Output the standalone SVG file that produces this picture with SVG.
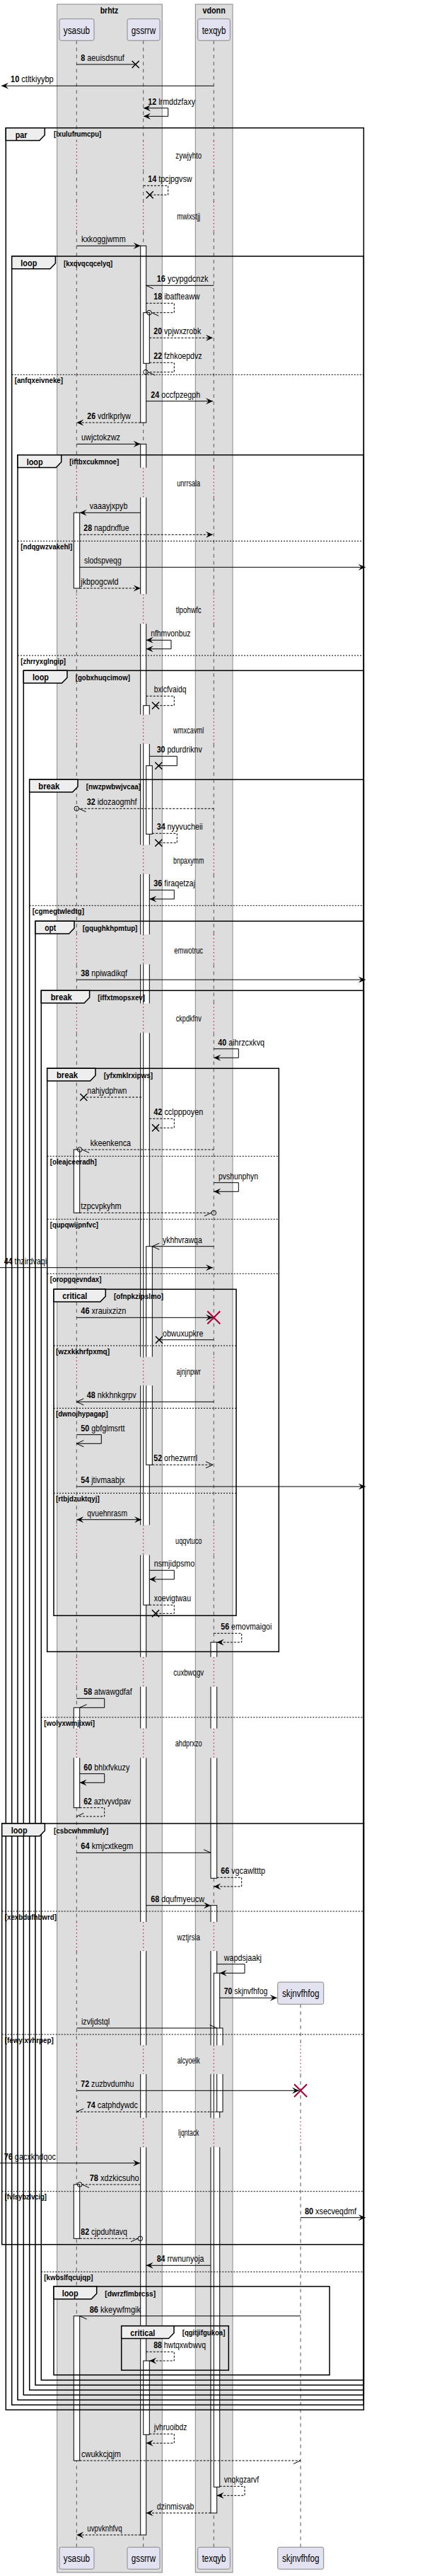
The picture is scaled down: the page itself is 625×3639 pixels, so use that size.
<svg xmlns="http://www.w3.org/2000/svg" width="625" height="3639" viewBox="0 0 625 3639">
<style>
text{font-family:"Liberation Sans",Arial,sans-serif;fill:#000}
.m{font-size:13.5px}
.n{font-weight:bold}
.dt{font-size:12px}
.g{font-size:11px;font-weight:bold}
.tl{font-size:13.5px;font-weight:bold}
.pn{font-size:14px}
.bt{font-size:13px;font-weight:bold}
.ln{stroke:#000;stroke-width:1;fill:none}
.da{stroke-dasharray:3,2}
.fr{fill:none;stroke:#000;stroke-width:1.5}
.tab{fill:#EEEEEE;stroke:#000;stroke-width:1.5}
.el{stroke:#000;stroke-width:1;stroke-dasharray:2,2}
.act{fill:#fff;stroke:#000;stroke-width:1}
.part{fill:#E2E2F0;stroke:#888;stroke-width:1}
.box{fill:#DDDDDD;stroke:#888;stroke-width:1}
.llg{stroke:#555;stroke-width:1;stroke-dasharray:5,5;fill:none}
.llr{stroke:#A80036;stroke-width:1;stroke-dasharray:1.5,3.5;fill:none}
</style>
<defs>
<path id="fR" d="M0,0L-10,-4.5L-6,0L-10,4.5Z" fill="#000"/>
<path id="fL" d="M0,0L10,-4.5L6,0L10,4.5Z" fill="#000"/>
<path id="oR" d="M-10,-4.5L0,0L-10,4.5" fill="none" stroke="#000"/>
<path id="oL" d="M10,-4.5L0,0L10,4.5" fill="none" stroke="#000"/>
<path id="hLu" d="M0,0L10,-4.5" stroke="#000"/>
<path id="hLl" d="M0,0L10,4.5" stroke="#000"/>
<path id="hRu" d="M0,0L-10,-4.5" stroke="#000"/>
<path id="hRl" d="M0,0L-10,4.5" stroke="#000"/>
<path id="xx" d="M-5,-5L5,5M-5,5L5,-5" stroke="#000" stroke-width="1.5"/>
<path id="rx" d="M-9,-9L9,9M-9,9L9,-9" stroke="#A80036" stroke-width="2"/>
<circle id="ci" r="3.3" fill="none" stroke="#000"/>
<path id="llg" class="llg" d="M0,57.3V199M0,241V285M0,327V660.7M0,702.7V839.3M0,881V1009.3M0,1051V1193.3M0,1235V1320M0,1362.3V1417.3M0,1459.3V1916.7M0,1957.3V2154.3M0,2196.7V2340.7M0,2382.7V2441.7M0,2483.3V2715M0,2756V2889.3M0,2930V2991.7M0,3033.3V3598.3"/>
<path id="llr" class="llr" d="M0,199V241M0,285V327M0,660.7V702.7M0,839.3V881M0,1009.3V1051M0,1193.3V1235M0,1320V1362.3M0,1417.3V1459.3M0,1916.7V1957.3M0,2154.3V2196.7M0,2340.7V2382.7M0,2441.7V2483.3M0,2715V2756M0,2889.3V2930M0,2991.7V3033.3"/>
<mask id="dm" maskUnits="userSpaceOnUse" x="0" y="0" width="625" height="3639">
<rect width="625" height="3639" fill="#fff"/>
<g fill="#000">
<rect x="0" y="199" width="625" height="42"/><rect x="0" y="285" width="625" height="42"/>
<rect x="0" y="660.7" width="625" height="42"/><rect x="0" y="839.3" width="625" height="41.7"/>
<rect x="0" y="1009.3" width="625" height="41.7"/><rect x="0" y="1193.3" width="625" height="41.7"/>
<rect x="0" y="1320" width="625" height="42.3"/><rect x="0" y="1417.3" width="625" height="42"/>
<rect x="0" y="1916.7" width="625" height="40.6"/><rect x="0" y="2154.3" width="625" height="42.4"/>
<rect x="0" y="2340.7" width="625" height="42"/><rect x="0" y="2441.7" width="625" height="41.6"/>
<rect x="0" y="2715" width="625" height="41"/><rect x="0" y="2889.3" width="625" height="40.7"/>
<rect x="0" y="2991.7" width="625" height="41.6"/>
</g>
</mask>
</defs>
<rect width="625" height="3639" fill="#fff"/>
<g id="box-brhtz"><rect class="box" x="80.7" y="6" width="148.6" height="3628"/><text class="bt" x="154.5" y="19" text-anchor="middle" textLength="25.6" lengthAdjust="spacingAndGlyphs">brhtz</text></g>
<g id="box-vdonn"><rect class="box" x="276.3" y="6" width="52.7" height="3628"/><text class="bt" x="302.6" y="19" text-anchor="middle" textLength="32.3" lengthAdjust="spacingAndGlyphs">vdonn</text></g>
<g id="lifelines">
<use href="#llg" x="108.3"/><use href="#llr" x="108.3"/>
<use href="#llg" x="202.7"/><use href="#llr" x="202.7"/>
<use href="#llg" x="302.3"/><use href="#llr" x="302.3"/>
<path class="llg" d="M425,2831.3V2889.3M425,2930V2991.7M425,3033.3V3598.3"/>
<path class="llr" d="M425,2889.3V2930M425,2991.7V3033.3"/>
</g>
<g id="activations" mask="url(#dm)">
<rect class="act" x="198.7" y="347.3" width="8" height="249.7"/>
<rect class="act" x="202.7" y="441.7" width="8.6" height="71.6"/>
<rect class="act" x="198.7" y="627.3" width="8" height="2953.7"/>
<rect class="act" x="202.7" y="996.7" width="8.6" height="1270.6"/>
<rect class="act" x="206.7" y="1081.7" width="8.6" height="96.6"/>
<rect class="act" x="206.7" y="1760.7" width="8.6" height="308.6"/>
<rect class="act" x="202.7" y="3335" width="8.6" height="104.3"/>
<rect class="act" x="104.3" y="724.3" width="8.4" height="106.7"/>
<rect class="act" x="104.3" y="1624" width="8.4" height="89.3"/>
<rect class="act" x="104.3" y="2412.3" width="8.4" height="141.4"/>
<rect class="act" x="104.3" y="3086" width="8.4" height="76.3"/>
<rect class="act" x="104.3" y="3271.7" width="8.4" height="204.3"/>
<rect class="act" x="298" y="2320" width="8.7" height="333.3"/>
<rect class="act" x="298" y="2691.7" width="8.7" height="858.3"/>
<rect class="act" x="302.3" y="2787.3" width="8.4" height="726"/>
<rect class="act" x="306.7" y="2865" width="8.3" height="118.3"/>
</g>
<g id="frames">
<g id="frame-par"><rect class="fr" x="8.3" y="180.7" width="506" height="3223.6"/><path class="tab" d="M8.3,180.7H63.3V190.7L55.8,198.4H8.3Z"/><text class="tl" x="21.7" y="194.7" textLength="16.7" lengthAdjust="spacingAndGlyphs">par</text><text class="g" x="76" y="192.5" textLength="67.3" lengthAdjust="spacingAndGlyphs">[lxulufrumcpu]</text></g>
<g id="frame-loop1"><rect class="fr" x="16.7" y="362" width="497.6" height="3035.3"/><path class="tab" d="M16.7,362H78.4V372L70.9,379.7H16.7Z"/><text class="tl" x="29.3" y="376" textLength="23" lengthAdjust="spacingAndGlyphs">loop</text><text class="g" x="90" y="375.5" textLength="69.3" lengthAdjust="spacingAndGlyphs">[kxqvqcqcelyq]</text>
<path class="el" d="M16.7,529.3H514.3"/><text class="g" x="20.7" y="541" textLength="68.3" lengthAdjust="spacingAndGlyphs">[anfqxeivneke]</text></g>
<g id="frame-loop2"><rect class="fr" x="25" y="642.7" width="489.3" height="2747.6"/><path class="tab" d="M25,642.7H86.7V652.7L79.2,660.4H25Z"/><text class="tl" x="37.7" y="656.7" textLength="23" lengthAdjust="spacingAndGlyphs">loop</text><text class="g" x="98.3" y="655.5" textLength="70" lengthAdjust="spacingAndGlyphs">[iftbxcukmnoe]</text>
<path class="el" d="M25,764.3H514.3"/><text class="g" x="29.3" y="776" textLength="73" lengthAdjust="spacingAndGlyphs">[ndqgwzvakehl]</text>
<path class="el" d="M25,926H514.3"/><text class="g" x="29.3" y="937.5" textLength="63.7" lengthAdjust="spacingAndGlyphs">[zhrryxglngip]</text></g>
<g id="frame-loop3"><rect class="fr" x="33.3" y="947.3" width="481" height="2436"/><path class="tab" d="M33.3,947.3H95V957.3L87.5,965H33.3Z"/><text class="tl" x="46" y="961.3" textLength="23" lengthAdjust="spacingAndGlyphs">loop</text><text class="g" x="106.7" y="960.5" textLength="77.3" lengthAdjust="spacingAndGlyphs">[gobxhuqcimow]</text></g>
<g id="frame-break1"><rect class="fr" x="41.7" y="1101.3" width="472.6" height="2275"/><path class="tab" d="M41.7,1101.3H110V1111.3L102.5,1119H41.7Z"/><text class="tl" x="54.3" y="1115.3" textLength="30" lengthAdjust="spacingAndGlyphs">break</text><text class="g" x="121.7" y="1114.5" textLength="77.3" lengthAdjust="spacingAndGlyphs">[nwzpwbwjvcaa]</text>
<path class="el" d="M41.7,1279.3H514.3"/><text class="g" x="45.7" y="1291" textLength="73.3" lengthAdjust="spacingAndGlyphs">[cgmegtwledtg]</text></g>
<g id="frame-opt"><rect class="fr" x="50" y="1301.3" width="464.3" height="2068"/><path class="tab" d="M50,1301.3H105V1311.3L97.5,1319H50Z"/><text class="tl" x="63.3" y="1315.3" textLength="16" lengthAdjust="spacingAndGlyphs">opt</text><text class="g" x="116.7" y="1314.5" textLength="77.7" lengthAdjust="spacingAndGlyphs">[gqughkhpmtup]</text></g>
<g id="frame-break2"><rect class="fr" x="58.3" y="1399.3" width="456" height="1963"/><path class="tab" d="M58.3,1399.3H126.6V1409.3L119.1,1417H58.3Z"/><text class="tl" x="71.7" y="1413.3" textLength="30" lengthAdjust="spacingAndGlyphs">break</text><text class="g" x="138.3" y="1412.5" textLength="66.7" lengthAdjust="spacingAndGlyphs">[iffxtmopsxev]</text>
<path class="el" d="M58.3,2426H514.3"/><text class="g" x="62.3" y="2437.7" textLength="71.7" lengthAdjust="spacingAndGlyphs">[wolyxwmjixwi]</text>
<path class="el" d="M58.3,3209.3H514.3"/><text class="g" x="62.3" y="3221" textLength="69.3" lengthAdjust="spacingAndGlyphs">[kwbslfqcujqp]</text></g>
<g id="frame-break3"><rect class="fr" x="66.7" y="1509.3" width="327.6" height="824"/><path class="tab" d="M66.7,1509.3H135V1519.3L127.5,1527H66.7Z"/><text class="tl" x="80" y="1523.3" textLength="30" lengthAdjust="spacingAndGlyphs">break</text><text class="g" x="146.7" y="1522.5" textLength="69.3" lengthAdjust="spacingAndGlyphs">[yfxmklrxipws]</text>
<path class="el" d="M66.7,1633.3H394.3"/><text class="g" x="70.7" y="1645" textLength="66" lengthAdjust="spacingAndGlyphs">[oleajceeradh]</text>
<path class="el" d="M66.7,1722.3H394.3"/><text class="g" x="70.7" y="1734" textLength="68.3" lengthAdjust="spacingAndGlyphs">[qupqwijpnfvc]</text>
<path class="el" d="M66.7,1799.3H394.3"/><text class="g" x="70.7" y="1811" textLength="72.7" lengthAdjust="spacingAndGlyphs">[oropgqevndax]</text></g>
<g id="frame-critical1"><rect class="fr" x="76" y="1821.3" width="258" height="461"/><path class="tab" d="M76,1821.3H149.3V1831.3L141.8,1839H76Z"/><text class="tl" x="88.3" y="1835.3" textLength="35" lengthAdjust="spacingAndGlyphs">critical</text><text class="g" x="161" y="1834.5" textLength="70" lengthAdjust="spacingAndGlyphs">[ofnpkzipslmo]</text>
<path class="el" d="M76,1901H334"/><text class="g" x="79" y="1912.7" textLength="76" lengthAdjust="spacingAndGlyphs">[wzxkkhrfpxmq]</text>
<path class="el" d="M76,1989.3H334"/><text class="g" x="79" y="2001" textLength="73.7" lengthAdjust="spacingAndGlyphs">[dwnojhypagap]</text>
<path class="el" d="M76,2109.3H334"/><text class="g" x="79" y="2121" textLength="61.7" lengthAdjust="spacingAndGlyphs">[rtbjdzuktqyj]</text></g>
<g id="frame-loop4"><rect class="fr" x="2.7" y="2576" width="511.6" height="594.7"/><path class="tab" d="M2.7,2576H63.4V2586L55.9,2593.7H2.7Z"/><text class="tl" x="15.7" y="2590" textLength="23" lengthAdjust="spacingAndGlyphs">loop</text><text class="g" x="76" y="2589.5" textLength="77.3" lengthAdjust="spacingAndGlyphs">[csbcwhmmlufy]</text>
<path class="el" d="M2.7,2700H514.3"/><text class="g" x="6.7" y="2711.7" textLength="73.3" lengthAdjust="spacingAndGlyphs">[xexbdufhbwrd]</text>
<path class="el" d="M2.7,2874H514.3"/><text class="g" x="6.7" y="2885.7" textLength="69" lengthAdjust="spacingAndGlyphs">[fewyixvhrpep]</text>
<path class="el" d="M2.7,3095.7H514.3"/><text class="g" x="6.7" y="3107.3" textLength="59.3" lengthAdjust="spacingAndGlyphs">[fvlsybzlvcig]</text></g>
<g id="frame-loop5"><rect class="fr" x="76" y="3230" width="390" height="125"/><path class="tab" d="M76,3230H136.7V3240L129.2,3247.7H76Z"/><text class="tl" x="87.7" y="3244" textLength="23" lengthAdjust="spacingAndGlyphs">loop</text><text class="g" x="148.3" y="3243.5" textLength="71.7" lengthAdjust="spacingAndGlyphs">[dwrzflmbrcss]</text></g>
<g id="frame-critical2"><rect class="fr" x="171.7" y="3285.7" width="151.6" height="62.6"/><path class="tab" d="M171.7,3285.7H246V3295.7L238.5,3303.4H171.7Z"/><text class="tl" x="184.3" y="3299.7" textLength="35" lengthAdjust="spacingAndGlyphs">critical</text><text class="g" x="257.7" y="3299" textLength="60.7" lengthAdjust="spacingAndGlyphs">[qgitjifgukoa]</text></g>
</g>
<g id="delays">
<text class="dt" x="266.7" y="224" text-anchor="middle" textLength="36.7" lengthAdjust="spacingAndGlyphs">zywjyhto</text>
<text class="dt" x="266.7" y="310" text-anchor="middle" textLength="32.7" lengthAdjust="spacingAndGlyphs">mwixstjj</text>
<text class="dt" x="266.7" y="686.7" text-anchor="middle" textLength="33" lengthAdjust="spacingAndGlyphs">unrrsala</text>
<text class="dt" x="266.7" y="865.7" text-anchor="middle" textLength="36" lengthAdjust="spacingAndGlyphs">tlpohwfc</text>
<text class="dt" x="266.7" y="1035.7" text-anchor="middle" textLength="43.3" lengthAdjust="spacingAndGlyphs">wmxcavml</text>
<text class="dt" x="266.7" y="1219.7" text-anchor="middle" textLength="43.3" lengthAdjust="spacingAndGlyphs">bnpaxymm</text>
<text class="dt" x="266.7" y="1346.7" text-anchor="middle" textLength="40.7" lengthAdjust="spacingAndGlyphs">emwotruc</text>
<text class="dt" x="266.7" y="1443.3" text-anchor="middle" textLength="36" lengthAdjust="spacingAndGlyphs">ckpdkfnv</text>
<text class="dt" x="266.7" y="1942.3" text-anchor="middle" textLength="34.3" lengthAdjust="spacingAndGlyphs">ajnjnpwr</text>
<text class="dt" x="266.7" y="2180.7" text-anchor="middle" textLength="37.3" lengthAdjust="spacingAndGlyphs">uqqvtuco</text>
<text class="dt" x="266.7" y="2366.7" text-anchor="middle" textLength="43" lengthAdjust="spacingAndGlyphs">cuxbwqgv</text>
<text class="dt" x="266.7" y="2467.3" text-anchor="middle" textLength="38" lengthAdjust="spacingAndGlyphs">ahdprxzo</text>
<text class="dt" x="266.7" y="2740.7" text-anchor="middle" textLength="32.3" lengthAdjust="spacingAndGlyphs">wztjrsla</text>
<text class="dt" x="266.7" y="2914.7" text-anchor="middle" textLength="32" lengthAdjust="spacingAndGlyphs">alcyoelk</text>
<text class="dt" x="266.7" y="3017.3" text-anchor="middle" textLength="29.3" lengthAdjust="spacingAndGlyphs">ljqntack</text>
</g>
<g id="participants">
<g id="p-ysasub"><rect class="part" x="84" y="26.7" width="49" height="30.6" rx="2.5"/><text class="pn" x="108.5" y="47.7" text-anchor="middle" textLength="37.3" lengthAdjust="spacingAndGlyphs">ysasub</text><rect class="part" x="84" y="3598.3" width="49" height="31" rx="2.5"/><text class="pn" x="108.5" y="3619.3" text-anchor="middle" textLength="37.3" lengthAdjust="spacingAndGlyphs">ysasub</text></g>
<g id="p-gssrrw"><rect class="part" x="180" y="26.7" width="46" height="30.6" rx="2.5"/><text class="pn" x="203" y="47.7" text-anchor="middle" textLength="34.3" lengthAdjust="spacingAndGlyphs">gssrrw</text><rect class="part" x="180" y="3598.3" width="46" height="31" rx="2.5"/><text class="pn" x="203" y="3619.3" text-anchor="middle" textLength="34.3" lengthAdjust="spacingAndGlyphs">gssrrw</text></g>
<g id="p-texqyb"><rect class="part" x="279.7" y="26.7" width="45.6" height="30.6" rx="2.5"/><text class="pn" x="302.5" y="47.7" text-anchor="middle" textLength="33.7" lengthAdjust="spacingAndGlyphs">texqyb</text><rect class="part" x="279.7" y="3598.3" width="45.6" height="31" rx="2.5"/><text class="pn" x="302.5" y="3619.3" text-anchor="middle" textLength="33.7" lengthAdjust="spacingAndGlyphs">texqyb</text></g>
<g id="p-skjnvfhfog"><rect class="part" x="392.7" y="2800" width="65" height="31.3" rx="2.5"/><text class="pn" x="425.2" y="2821" text-anchor="middle" textLength="52.3" lengthAdjust="spacingAndGlyphs">skjnvfhfog</text><rect class="part" x="392.7" y="3598.3" width="65" height="31" rx="2.5"/><text class="pn" x="425.2" y="3619.3" text-anchor="middle" textLength="52.3" lengthAdjust="spacingAndGlyphs">skjnvfhfog</text></g>
</g>
<g id="connectors">
<g><path class="ln" d="M108.3,91H191.7"/><use href="#xx" x="191.7" y="91"/><text class="m" x="114.3" y="86" textLength="61.4" lengthAdjust="spacingAndGlyphs"><tspan class="n">8</tspan> aeuisdsnuf</text></g>
<g><path class="ln" d="M302.3,121.3H2"/><use href="#fL" x="2" y="121.3"/><text class="m" x="15" y="116.3" textLength="60.7" lengthAdjust="spacingAndGlyphs"><tspan class="n">10</tspan> ctltkiyybp</text></g>
<g><path class="ln" d="M203,152.7H237.7V164.3H203"/><use href="#fL" x="203" y="152.7"/><use href="#fL" x="203" y="164.3"/><text class="m" x="209.3" y="147.7" textLength="66.7" lengthAdjust="spacingAndGlyphs"><tspan class="n">12</tspan> lrmddzfaxy</text></g>
<g><path class="ln da" d="M203,262.3H237.7V275.3H211.7"/><use href="#xx" x="211.7" y="275.3"/><text class="m" x="209.3" y="257.3" textLength="62.3" lengthAdjust="spacingAndGlyphs"><tspan class="n">14</tspan> tpcjpgvsw</text></g>
<g><path class="ln" d="M108.3,347.3H198.7"/><use href="#fR" x="198.7" y="347.3"/><text class="m" x="115" y="342.3" textLength="62.7" lengthAdjust="spacingAndGlyphs">kxkoggjwmm</text></g>
<g><path class="ln" d="M302.3,403.3H206.7"/><use href="#hLl" x="206.7" y="403.3"/><text class="m" x="221.7" y="398.3" textLength="72.7" lengthAdjust="spacingAndGlyphs"><tspan class="n">16</tspan> ycypgdcnzk</text></g>
<g><path class="ln da" d="M206.7,428.3H246.3V441.7H214.3"/><use href="#ci" x="211" y="441.7"/><use href="#hLl" x="214.3" y="441.7"/><text class="m" x="217.3" y="423.3" textLength="65.3" lengthAdjust="spacingAndGlyphs"><tspan class="n">18</tspan> ibatfteaww</text></g>
<g><path class="ln da" d="M211.3,477.3H301"/><use href="#fR" x="301" y="477.3"/><text class="m" x="217.3" y="472.3" textLength="67" lengthAdjust="spacingAndGlyphs"><tspan class="n">20</tspan> vpjwxzrobk</text></g>
<g><path class="ln da" d="M211.3,512.3H246.3V525.7H209.3"/><use href="#ci" x="206" y="525.7"/><use href="#hLl" x="209.3" y="525.7"/><text class="m" x="217.3" y="507.3" textLength="68.3" lengthAdjust="spacingAndGlyphs"><tspan class="n">22</tspan> fzhkoepdvz</text></g>
<g><path class="ln" d="M206.7,566.7H301"/><use href="#fR" x="301" y="566.7"/><text class="m" x="213.3" y="561.7" textLength="70" lengthAdjust="spacingAndGlyphs"><tspan class="n">24</tspan> occfpzegph</text></g>
<g><path class="ln da" d="M198.7,597H108.3"/><use href="#fL" x="108.3" y="597"/><text class="m" x="123.3" y="592" textLength="61.7" lengthAdjust="spacingAndGlyphs"><tspan class="n">26</tspan> vdrlkprlyw</text></g>
<g><path class="ln" d="M108.3,627.3H198.7"/><use href="#fR" x="198.7" y="627.3"/><text class="m" x="115" y="622.3" textLength="55" lengthAdjust="spacingAndGlyphs">uwjctokzwz</text></g>
<g><path class="ln" d="M198.7,724.3H112.7"/><use href="#fL" x="112.7" y="724.3"/><text class="m" x="126.7" y="719.3" textLength="53.7" lengthAdjust="spacingAndGlyphs">vaaayjxpyb</text></g>
<g><path class="ln da" d="M112.7,755.3H301"/><use href="#fR" x="301" y="755.3"/><text class="m" x="118.3" y="750.3" textLength="64.3" lengthAdjust="spacingAndGlyphs"><tspan class="n">28</tspan> napdrxffue</text></g>
<g><path class="ln" d="M112.7,801.3H516.7"/><use href="#fR" x="516.7" y="801.3"/><text class="m" x="119" y="796.3" textLength="52.7" lengthAdjust="spacingAndGlyphs">slodspveqg</text></g>
<g><path class="ln da" d="M112.7,831H198.7"/><use href="#fR" x="198.7" y="831"/><text class="m" x="114.3" y="826" textLength="53.3" lengthAdjust="spacingAndGlyphs">jkbpogcwld</text></g>
<g><path class="ln" d="M206.7,904.3H242V916.7H206.7"/><use href="#fL" x="206.7" y="904.3"/><use href="#fL" x="206.7" y="916.7"/><text class="m" x="213.3" y="899.3" textLength="56" lengthAdjust="spacingAndGlyphs">nfhmvonbuz</text></g>
<g><path class="ln da" d="M206.7,983.3H246.3V996.7H220"/><use href="#xx" x="220" y="996.7"/><text class="m" x="217.7" y="978.3" textLength="45.7" lengthAdjust="spacingAndGlyphs">bxlcfvaidq</text></g>
<g><path class="ln" d="M211.3,1068.3H250.3V1081.7H224.3"/><use href="#xx" x="224.3" y="1081.7"/><text class="m" x="221.7" y="1063.3" textLength="64" lengthAdjust="spacingAndGlyphs"><tspan class="n">30</tspan> pdurdriknv</text></g>
<g><path class="ln da" d="M302.3,1142.3H111.6"/><use href="#ci" x="108.3" y="1142.3"/><use href="#hLl" x="111.6" y="1142.3"/><text class="m" x="122.7" y="1137.3" textLength="70.7" lengthAdjust="spacingAndGlyphs"><tspan class="n">32</tspan> idozaogmhf</text></g>
<g><path class="ln da" d="M215.3,1177.3H250.3V1190.7H224.3"/><use href="#xx" x="224.3" y="1190.7"/><text class="m" x="221.7" y="1172.3" textLength="65" lengthAdjust="spacingAndGlyphs"><tspan class="n">34</tspan> nyyvucheii</text></g>
<g><path class="ln" d="M211.3,1257.3H246.3V1270H211.3"/><use href="#fL" x="211.3" y="1270"/><text class="m" x="217.3" y="1252.3" textLength="58.7" lengthAdjust="spacingAndGlyphs"><tspan class="n">36</tspan> firaqetzaj</text></g>
<g><path class="ln" d="M108.3,1384H516.7"/><use href="#fR" x="516.7" y="1384"/><text class="m" x="114.3" y="1379" textLength="65.7" lengthAdjust="spacingAndGlyphs"><tspan class="n">38</tspan> npiwadikqf</text></g>
<g><path class="ln" d="M302.3,1481.7H337.3V1494.3H302.3"/><use href="#fL" x="302.3" y="1494.3"/><text class="m" x="308.3" y="1476.7" textLength="65.7" lengthAdjust="spacingAndGlyphs"><tspan class="n">40</tspan> aihrzcxkvq</text></g>
<g><path class="ln da" d="M200,1550H118.3"/><use href="#xx" x="118.3" y="1550"/><text class="m" x="123.3" y="1545" textLength="56" lengthAdjust="spacingAndGlyphs">nahjydphwn</text></g>
<g><path class="ln da" d="M211.3,1580.3H246.3V1593.3H220"/><use href="#xx" x="220" y="1593.3"/><text class="m" x="217.3" y="1575.3" textLength="70" lengthAdjust="spacingAndGlyphs"><tspan class="n">42</tspan> cclpppoyen</text></g>
<g><path class="ln da" d="M302.3,1624H116"/><use href="#ci" x="112.7" y="1624"/><use href="#hLl" x="116" y="1624"/><text class="m" x="127.7" y="1619" textLength="57.3" lengthAdjust="spacingAndGlyphs">kkeenkenca</text></g>
<g><path class="ln" d="M302.3,1670.7H337.3V1683.3H302.3"/><use href="#fL" x="302.3" y="1683.3"/><text class="m" x="309" y="1665.7" textLength="56" lengthAdjust="spacingAndGlyphs">pvshunphyn</text></g>
<g><path class="ln da" d="M112.7,1713.3H299"/><use href="#ci" x="302.3" y="1713.3"/><use href="#hRl" x="299" y="1713.3"/><text class="m" x="114.3" y="1708.3" textLength="57.3" lengthAdjust="spacingAndGlyphs">tzpcvpkyhm</text></g>
<g><path class="ln" d="M302.3,1760.7H215.3"/><use href="#oL" x="215.3" y="1760.7"/><text class="m" x="230" y="1755.7" textLength="55.7" lengthAdjust="spacingAndGlyphs">ykhhvrawqa</text></g>
<g><path class="ln" d="M0,1790.7H301"/><use href="#fR" x="301" y="1790.7"/><text class="m" x="5.7" y="1785.7" textLength="60.3" lengthAdjust="spacingAndGlyphs"><tspan class="n">44</tspan> thzirdvaqi</text></g>
<g><path class="ln" d="M108.3,1861.3H301"/><use href="#fR" x="301" y="1861.3"/><use href="#rx" x="302.3" y="1861.3"/><text class="m" x="114.3" y="1856.3" textLength="64" lengthAdjust="spacingAndGlyphs"><tspan class="n">46</tspan> xrauixzizn</text></g>
<g><path class="ln" d="M302.3,1892.7H225"/><use href="#xx" x="225" y="1892.7"/><text class="m" x="230" y="1887.7" textLength="57.3" lengthAdjust="spacingAndGlyphs">obwuxupkre</text></g>
<g><path class="ln" d="M302.3,1980.3H108.3"/><use href="#oL" x="108.3" y="1980.3"/><text class="m" x="122.7" y="1975.3" textLength="70" lengthAdjust="spacingAndGlyphs"><tspan class="n">48</tspan> nkkhnkgrpv</text></g>
<g><path class="ln" d="M108.3,2026.7H143.3V2039.3H108.3"/><use href="#oL" x="108.3" y="2039.3"/><text class="m" x="114.3" y="2021.7" textLength="62.3" lengthAdjust="spacingAndGlyphs"><tspan class="n">50</tspan> gbfglmsrtt</text></g>
<g><path class="ln da" d="M215.3,2069.3H301"/><use href="#oR" x="301" y="2069.3"/><text class="m" x="217.3" y="2064.3" textLength="61.7" lengthAdjust="spacingAndGlyphs"><tspan class="n">52</tspan> orhezwrrrl</text></g>
<g><path class="ln" d="M108.3,2100H516.7"/><use href="#fR" x="516.7" y="2100"/><text class="m" x="114.3" y="2095" textLength="62.3" lengthAdjust="spacingAndGlyphs"><tspan class="n">54</tspan> jtivmaabjx</text></g>
<g><path class="ln" d="M108.3,2146.7H200"/><use href="#fL" x="108.3" y="2146.7"/><use href="#fR" x="200" y="2146.7"/><text class="m" x="123.3" y="2141.7" textLength="56.7" lengthAdjust="spacingAndGlyphs">qvuehnrasm</text></g>
<g><path class="ln" d="M211.3,2218.3H246.3V2231H211.3"/><use href="#fL" x="211.3" y="2231"/><text class="m" x="217.7" y="2213.3" textLength="57.7" lengthAdjust="spacingAndGlyphs">nsmjidpsmo</text></g>
<g><path class="ln da" d="M211.3,2267.3H246.3V2279.3H220"/><use href="#xx" x="220" y="2279.3"/><text class="m" x="217.7" y="2262.3" textLength="52.3" lengthAdjust="spacingAndGlyphs">xoevigtwau</text></g>
<g><path class="ln da" d="M302.3,2307.3H341.7V2320H306.7"/><use href="#fL" x="306.7" y="2320"/><text class="m" x="312.3" y="2302.3" textLength="72" lengthAdjust="spacingAndGlyphs"><tspan class="n">56</tspan> emovmaigoi</text></g>
<g><path class="ln" d="M108.3,2399.3H147.7V2412.3H112.7"/><use href="#hLu" x="112.7" y="2412.3"/><text class="m" x="118.3" y="2394.3" textLength="68.3" lengthAdjust="spacingAndGlyphs"><tspan class="n">58</tspan> atwawgdfaf</text></g>
<g><path class="ln" d="M112.7,2505.7H147.7V2518.3H112.7"/><use href="#fL" x="112.7" y="2518.3"/><text class="m" x="118.3" y="2500.7" textLength="65" lengthAdjust="spacingAndGlyphs"><tspan class="n">60</tspan> bhlxfvkuzy</text></g>
<g><path class="ln da" d="M112.7,2553.7H147.7V2566H108.3"/><use href="#hLu" x="108.3" y="2566"/><text class="m" x="118.3" y="2548.7" textLength="66.7" lengthAdjust="spacingAndGlyphs"><tspan class="n">62</tspan> aztvyvdpav</text></g>
<g><path class="ln" d="M108.3,2617.3H298"/><use href="#hRu" x="298" y="2617.3"/><text class="m" x="114.3" y="2612.3" textLength="74" lengthAdjust="spacingAndGlyphs"><tspan class="n">64</tspan> kmjcxtkegm</text></g>
<g><path class="ln da" d="M306.7,2652.3H341.7V2665H302.3"/><use href="#fL" x="302.3" y="2665"/><text class="m" x="312.3" y="2647.3" textLength="62.7" lengthAdjust="spacingAndGlyphs"><tspan class="n">66</tspan> vgcawltttp</text></g>
<g><path class="ln" d="M206.7,2691.7H298"/><use href="#fR" x="298" y="2691.7"/><text class="m" x="213.3" y="2686.7" textLength="75.7" lengthAdjust="spacingAndGlyphs"><tspan class="n">68</tspan> dqufmyeucw</text></g>
<g><path class="ln" d="M306.7,2774.7H346V2787.3H310.7"/><use href="#fL" x="310.7" y="2787.3"/><text class="m" x="316.7" y="2769.7" textLength="53.3" lengthAdjust="spacingAndGlyphs">wapdsjaakj</text></g>
<g><path class="ln" d="M310.7,2822.3H391.7"/><use href="#fR" x="391.7" y="2822.3"/><text class="m" x="316.7" y="2817.3" textLength="61.7" lengthAdjust="spacingAndGlyphs"><tspan class="n">70</tspan> skjnvfhfog</text></g>
<g><path class="ln" d="M108.3,2865H306.7"/><use href="#hRu" x="306.7" y="2865"/><text class="m" x="115" y="2860" textLength="40" lengthAdjust="spacingAndGlyphs">izvljdstql</text></g>
<g><path class="ln" d="M108.3,2953.3H423"/><use href="#fR" x="423" y="2953.3"/><use href="#rx" x="425" y="2953.3"/><text class="m" x="114.3" y="2948.3" textLength="75" lengthAdjust="spacingAndGlyphs"><tspan class="n">72</tspan> zuzbvdumhu</text></g>
<g><path class="ln da" d="M306.7,2983.3H108.3"/><use href="#hLu" x="108.3" y="2983.3"/><text class="m" x="122.7" y="2978.3" textLength="72.3" lengthAdjust="spacingAndGlyphs"><tspan class="n">74</tspan> catphdywdc</text></g>
<g><path class="ln" d="M0,3055.7H198"/><use href="#fR" x="198" y="3055.7"/><text class="m" x="5.7" y="3050.7" textLength="73.3" lengthAdjust="spacingAndGlyphs"><tspan class="n">76</tspan> gacxkhdqoc</text></g>
<g><path class="ln da" d="M198.7,3086H116"/><use href="#ci" x="112.7" y="3086"/><use href="#hLl" x="116" y="3086"/><text class="m" x="126.7" y="3081" textLength="70" lengthAdjust="spacingAndGlyphs"><tspan class="n">78</tspan> xdzkicsuho</text></g>
<g><path class="ln" d="M425,3132.7H516.7"/><use href="#fR" x="516.7" y="3132.7"/><text class="m" x="431" y="3127.7" textLength="73" lengthAdjust="spacingAndGlyphs"><tspan class="n">80</tspan> xsecveqdmf</text></g>
<g><path class="ln da" d="M112.7,3162.3H195"/><use href="#ci" x="198.3" y="3162.3"/><use href="#hRl" x="195" y="3162.3"/><text class="m" x="114.3" y="3157.3" textLength="65.7" lengthAdjust="spacingAndGlyphs"><tspan class="n">82</tspan> cjpduhtavq</text></g>
<g><path class="ln" d="M298,3200.3H206.7"/><use href="#fL" x="206.7" y="3200.3"/><text class="m" x="221.7" y="3195.3" textLength="66.7" lengthAdjust="spacingAndGlyphs"><tspan class="n">84</tspan> rrwnunyoja</text></g>
<g><path class="ln" d="M425,3271.7H112.7"/><use href="#hLl" x="112.7" y="3271.7"/><text class="m" x="126.7" y="3266.7" textLength="72.3" lengthAdjust="spacingAndGlyphs"><tspan class="n">86</tspan> kkeywfmgik</text></g>
<g><path class="ln da" d="M206.7,3322.3H246.3V3335H211.3"/><use href="#fL" x="211.3" y="3335"/><text class="m" x="217.3" y="3317.3" textLength="73.7" lengthAdjust="spacingAndGlyphs"><tspan class="n">88</tspan> hwtqxwbwvq</text></g>
<g><path class="ln da" d="M211.3,3438.3H246.3V3451.3H206.7"/><use href="#fL" x="206.7" y="3451.3"/><text class="m" x="217.7" y="3433.3" textLength="46.7" lengthAdjust="spacingAndGlyphs">jvhruoibdz</text></g>
<g><path class="ln da" d="M112.7,3476H425"/><use href="#hRl" x="425" y="3476"/><text class="m" x="115" y="3471" textLength="56" lengthAdjust="spacingAndGlyphs">cwukkcjqjm</text></g>
<g><path class="ln da" d="M310.7,3512.3H346V3525.3H306.7"/><use href="#fL" x="306.7" y="3525.3"/><text class="m" x="316.7" y="3507.3" textLength="49.3" lengthAdjust="spacingAndGlyphs">vnqkgzarvf</text></g>
<g><path class="ln da" d="M298,3550H206.7"/><use href="#fL" x="206.7" y="3550"/><text class="m" x="221.7" y="3545" textLength="52.7" lengthAdjust="spacingAndGlyphs">dzinmisvab</text></g>
<g><path class="ln da" d="M198.7,3581H108.3"/><use href="#fL" x="108.3" y="3581"/><text class="m" x="123.3" y="3576" textLength="49.3" lengthAdjust="spacingAndGlyphs">uvpvknhfvq</text></g>
</g>
</svg>
